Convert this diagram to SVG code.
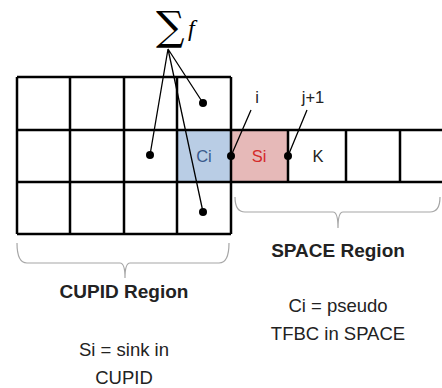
<svg xmlns="http://www.w3.org/2000/svg" width="442" height="388" viewBox="0 0 442 388">
<style>
.g{fill:none;stroke:#000;stroke-width:2.5}
.c{fill:none;stroke:#000;stroke-width:1.3}
.b{fill:none;stroke:#a6a6a6;stroke-width:1.2}
.d{fill:#000}
.t{font-family:"Liberation Sans",sans-serif;font-size:18.5px;fill:#222;text-anchor:middle}
.tb{font-family:"Liberation Sans",sans-serif;font-size:19px;font-weight:bold;fill:#222;text-anchor:middle}
.s{font-family:"Liberation Sans",sans-serif;font-size:16.5px;fill:#222;text-anchor:middle}
</style>
<g id="grid">
<rect x="177" y="130" width="54" height="52" fill="#b9cde5"/>
<rect x="231" y="130" width="57" height="52" fill="#e6b9b8"/>
<path class="g" d="M17,77H231M17,130H442M17,182H442M17,234H231M17,77V234M70,77V234M124,77V234M177,77V234M231,77V234M288,130V182M346,130V182M400,130V182"/>
</g>
<g id="cells">
<text class="s" x="204" y="162" style="fill:#3a5a8c">Ci</text>
<text class="s" x="259" y="162" style="fill:#d42a2a">Si</text>
<text class="s" x="318" y="162">K</text>
</g>
<g id="sum">
<text x="156" y="40" font-family="DejaVu Serif,serif" font-size="40">∑</text>
<text x="188" y="36" font-family="Liberation Serif,serif" font-style="italic" font-size="24">f</text>
</g>
<g id="connectors">
<path class="c" d="M168,49L203,103M168,49L150,155M168,49L203,212M251,110L231,156M307,110L288,156"/>
<circle class="d" cx="203" cy="103" r="4"/>
<circle class="d" cx="150" cy="155" r="4"/>
<circle class="d" cx="203" cy="212" r="4"/>
<circle class="d" cx="231" cy="156" r="4"/>
<circle class="d" cx="288" cy="156" r="4"/>
</g>
<g id="labels">
<text class="s" x="257" y="103">i</text>
<text class="s" x="313" y="103">j+1</text>
</g>
<g id="braces">
<path class="b" d="M235,197Q235,212 245,212H333Q338,212 338,228Q338,212 343,212H430Q440,212 440,197"/>
<path class="b" d="M17,243Q17,263 27,263H120Q125,263 125,278Q125,263 130,263H219Q229,263 229,243"/>
</g>
<g id="texts">
<text class="tb" x="338" y="257">SPACE Region</text>
<text class="tb" x="124" y="298">CUPID Region</text>
<text class="t" x="338" y="312">Ci = pseudo</text>
<text class="t" x="338" y="340">TFBC in SPACE</text>
<text class="t" x="124" y="356">Si = sink in</text>
<text class="t" x="124" y="384">CUPID</text>
</g>
</svg>
